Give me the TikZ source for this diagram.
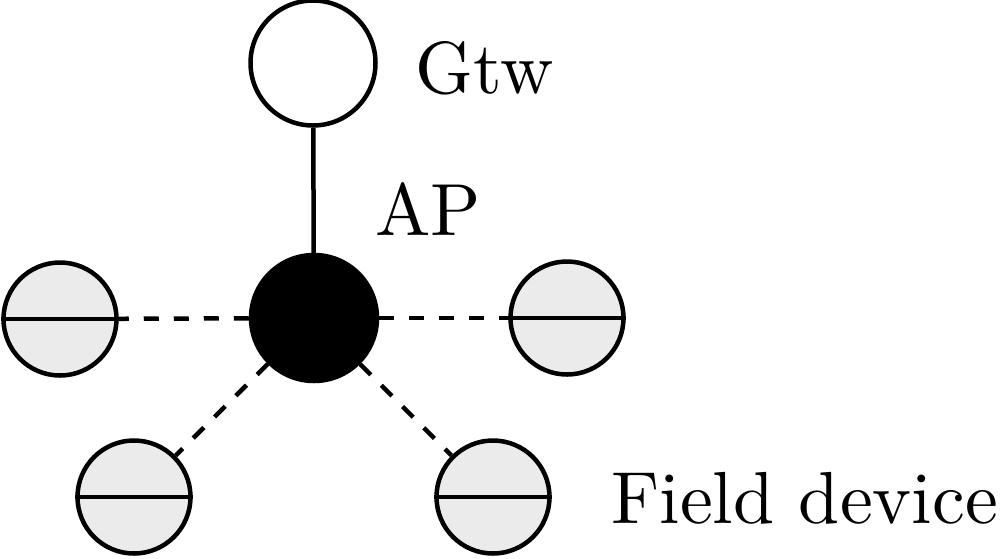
\documentclass[tikz,border=0pt]{standalone}
\usepackage{fontspec}
\newfontfamily\lmten{lmroman10-regular.otf}
\begin{document}
\begin{tikzpicture}[
  lw/.style={line width=0.09cm},
  gw/.style={circle, draw, lw, fill=white, minimum size=2.5cm, inner sep=0pt},
  apn/.style={circle, draw, lw, fill=black, minimum size=2.52cm, inner sep=0pt},
  fd/.style={circle, draw, lw, fill=black!8, minimum size=2.26cm, inner sep=0pt},
  lbl/.style={anchor=base west, inner sep=0pt, font=\lmten\fontsize{42}{50}\selectfont},
  conn/.style={lw, dash pattern=on 0.3cm off 0.3cm}
]
\useasboundingbox (0,0) rectangle (20,-11.16);
\node[gw] (gtw) at (6.26,-1.26) {};
\node[apn] (ap) at (6.28,-6.36) {};
\node[fd] (fl) at (1.2,-6.38) {};
\node[fd] (fr) at (11.34,-6.36) {};
\node[fd] (bl) at (2.68,-9.94) {};
\node[fd] (br) at (9.86,-9.94) {};
\foreach \n in {fl,fr,bl,br}{\draw[lw] (\n.west) -- (\n.east);}
\draw[lw] (gtw) -- (ap);
\draw[conn] (ap) -- (fl);
\draw[conn] (ap) -- (fr);
\draw[conn] (ap) -- (bl);
\draw[conn] (ap) -- (br);
\node[lbl] (tgtw) at (8.3,-1.86) {Gtw};
\node[lbl] (tap) at (7.5,-4.7) {AP};
\node[lbl] (tfd) at (12.22,-10.46) {Field device};
\end{tikzpicture}
\end{document}
